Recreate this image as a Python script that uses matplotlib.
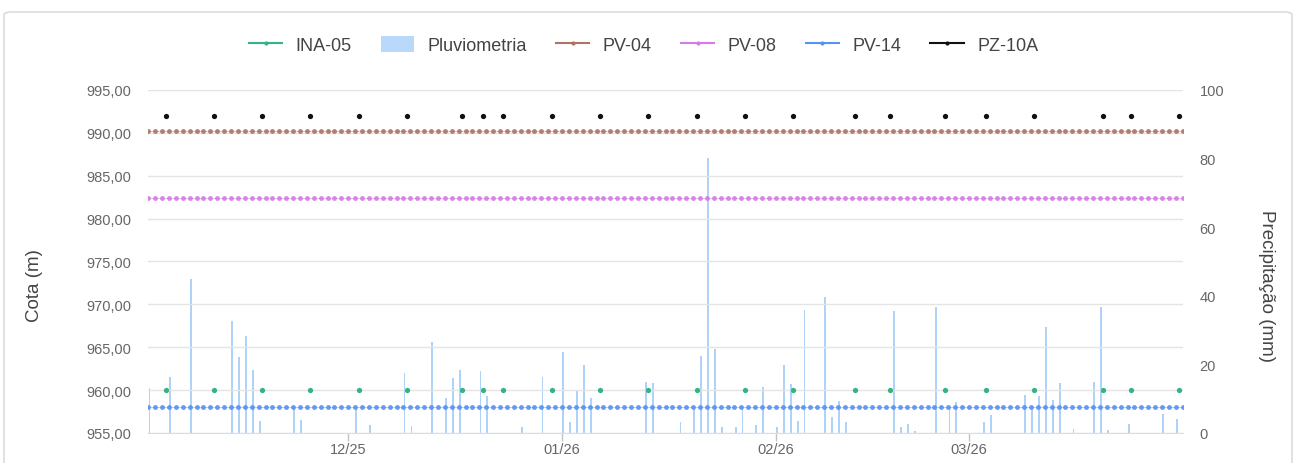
import matplotlib
matplotlib.use("Agg")
import matplotlib.pyplot as plt
import matplotlib.dates as mdates
from matplotlib.lines import Line2D
from matplotlib.patches import Patch, FancyBboxPatch
import pandas as pd

plt.rcParams["font.family"] = ["Liberation Sans", "DejaVu Sans"]

# daily logger readings (Cota, m)
first_day = "2025-11-02"
last_day = "2026-04-01"
pv04_level = 990.2
pv08_level = 982.4
pv14_level = 958.0

# manual readings, taken around midday
manual_dates = ["2025-11-04", "2025-11-11", "2025-11-18", "2025-11-25", "2025-12-02",
                "2025-12-09", "2025-12-17", "2025-12-20", "2025-12-23", "2025-12-30",
                "2026-01-06", "2026-01-13", "2026-01-20", "2026-01-27", "2026-02-03",
                "2026-02-12", "2026-02-17", "2026-02-25", "2026-03-03", "2026-03-10",
                "2026-03-20", "2026-03-24", "2026-03-31"]
ina05 = [960.0] * len(manual_dates)
pz10a = [992.0] * len(manual_dates)

# daily rainfall (mm), days without rain left out
rain_dates = ["2025-11-02", "2025-11-05", "2025-11-08", "2025-11-14", "2025-11-15",
              "2025-11-16", "2025-11-17", "2025-11-18", "2025-11-23", "2025-11-24",
              "2025-12-02", "2025-12-04", "2025-12-09", "2025-12-10", "2025-12-13",
              "2025-12-15", "2025-12-16", "2025-12-17", "2025-12-20", "2025-12-21",
              "2025-12-26", "2025-12-29", "2026-01-01", "2026-01-02", "2026-01-03",
              "2026-01-04", "2026-01-05", "2026-01-13", "2026-01-14", "2026-01-18",
              "2026-01-20", "2026-01-21", "2026-01-22", "2026-01-23", "2026-01-24",
              "2026-01-26", "2026-01-27", "2026-01-29", "2026-01-30", "2026-02-01",
              "2026-02-02", "2026-02-03", "2026-02-04", "2026-02-05", "2026-02-08",
              "2026-02-09", "2026-02-10", "2026-02-11", "2026-02-18", "2026-02-19",
              "2026-02-20", "2026-02-21", "2026-02-24", "2026-02-26", "2026-02-27",
              "2026-03-03", "2026-03-04", "2026-03-09", "2026-03-10", "2026-03-11",
              "2026-03-12", "2026-03-13", "2026-03-14", "2026-03-16", "2026-03-19",
              "2026-03-20", "2026-03-21", "2026-03-24", "2026-03-29", "2026-03-31"]
rain_mm = [13.0, 16.2, 44.9, 32.6, 22.2,
           28.3, 18.5, 3.6, 7.5, 3.9,
           7.0, 2.3, 17.4, 2.1, 26.6,
           10.1, 15.9, 18.5, 18.2, 10.7,
           1.7, 16.4, 23.7, 3.3, 12.3,
           19.9, 10.2, 15.0, 14.5, 3.3,
           7.0, 22.5, 80.2, 24.5, 1.7,
           1.7, 7.0, 2.3, 13.3, 1.7,
           19.9, 14.3, 3.6, 35.9, 39.7,
           4.6, 9.4, 3.1, 35.5, 1.7,
           2.6, 0.7, 36.6, 7.0, 8.9,
           3.3, 5.2, 11.1, 7.0, 10.7,
           30.8, 9.7, 14.6, 1.2, 14.8,
           36.6, 1.0, 2.6, 5.6, 4.1]

tick_dates = ["2025-12-01", "2026-01-01", "2026-02-01", "2026-03-01"]

colors = {"INA-05": "#36b383", "Pluviometria": "#b9d9fa", "PV-04": "#ad7366",
          "PV-08": "#d57ae6", "PV-14": "#5592f2", "PZ-10A": "#111111"}

days = pd.date_range(first_day, last_day, freq="D")
manual_t = pd.to_datetime(manual_dates) + pd.Timedelta(hours=12)
rain_t = pd.to_datetime(rain_dates) + pd.Timedelta(hours=4)

fig = plt.figure(figsize=(12.95, 4.64), dpi=100)
ax = fig.add_axes([0.1145, 0.0647, 0.7988, 0.7392])
ax2 = ax.twinx()
ax.set_zorder(ax2.get_zorder() + 1)
ax.patch.set_visible(False)

ax2.bar(rain_t, rain_mm, width=0.26, color="#aed2f8", zorder=1)

for name, level in [("PV-04", pv04_level), ("PV-08", pv08_level), ("PV-14", pv14_level)]:
    ax.plot(days, [level] * len(days), color=colors[name], lw=0.7, alpha=0.45)
    ax.plot(days, [level] * len(days), ls="none", marker="o", ms=3.5, mec="none",
            color=colors[name], alpha=0.9)
ax.plot(manual_t, ina05, ls="none", marker="o", ms=3.8, mec="none", color=colors["INA-05"])
ax.plot(manual_t, pz10a, ls="none", marker="o", ms=3.8, mec="none", color=colors["PZ-10A"])

ax.set_xlim(days[0], days[-1])
ax.set_ylim(955, 995)
ax.set_yticks(range(955, 996, 5))
ax.set_yticklabels([f"{v},00" for v in range(955, 996, 5)])
ax2.set_ylim(0, 100)
ax2.set_yticks(range(0, 101, 20))

ax.set_xticks(pd.to_datetime(tick_dates))
ax.xaxis.set_major_formatter(mdates.DateFormatter("%m/%y"))

ax.grid(axis="y", color="#e4e4e4", lw=1)
for a in (ax, ax2):
    for s in a.spines.values():
        s.set_visible(False)
ax.spines["bottom"].set_visible(True)
ax.spines["bottom"].set_color("#dddddd")

ax.tick_params(axis="y", length=0, pad=12, labelsize=10.5, labelcolor="#666666")
ax2.tick_params(axis="y", length=0, pad=12, labelsize=10.5, labelcolor="#666666")
ax.tick_params(axis="x", length=6, width=1, color="#c4c4c4", pad=0.5,
               labelsize=10.5, labelcolor="#666666")

fig.text(34.7 / 1295, 1 - 286 / 464, "Cota (m)", rotation=90, ha="center", va="center",
         fontsize=13.5, color="#444444")
fig.text(1266 / 1295, 1 - 286 / 464, "Precipitação (mm)", rotation=270, ha="center",
         va="center", fontsize=13.5, color="#444444")

handles = []
labels = ["INA-05", "Pluviometria", "PV-04", "PV-08", "PV-14", "PZ-10A"]
for name in labels:
    if name == "Pluviometria":
        handles.append(Patch(facecolor=colors[name], edgecolor="none"))
    else:
        handles.append(Line2D([], [], color=colors[name], lw=1.5, marker="o", ms=3,
                              mec="none"))
fig.legend(handles, labels, loc="center", bbox_to_anchor=(0.497, 0.901), ncol=6,
           frameon=False, fontsize=13, handlelength=1.85, handleheight=1.0,
           handletextpad=0.75, columnspacing=1.6, labelcolor="#444444")

border = FancyBboxPatch((4 / 1295, -0.1), 1288 / 1295, 1.1 - 13 / 464,
                        boxstyle="round,pad=0,rounding_size=0.006",
                        transform=fig.transFigure, facecolor="none",
                        edgecolor="#dcdcdc", lw=1.2)
fig.add_artist(border)

fig.savefig("out.png", dpi=100)
